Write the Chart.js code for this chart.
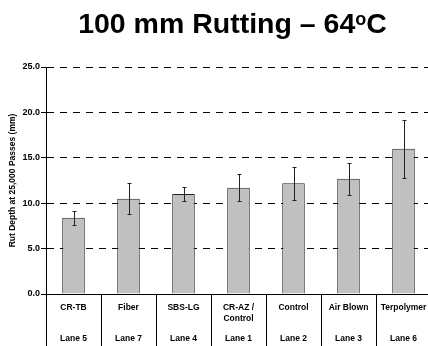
<!DOCTYPE html>
<html>
<head>
<meta charset="utf-8">
<script src="https://cdn.jsdelivr.net/npm/chart.js@4/dist/chart.umd.min.js"></script>
<style>
    html, body { margin: 0; padding: 0; background: #fff; overflow: hidden; }
    #wrap { width: 431px; height: 346px; }
</style>
</head>
<body>
<div id="wrap"><canvas id="rutChart" width="431" height="346"></canvas></div>
<script>
// Data
const mixes = ['CR-TB', 'Fiber', 'SBS-LG', ['CR-AZ /', 'Control'], 'Control', 'Air Blown', 'Terpolymer'];
const lanes = ['Lane 5', 'Lane 7', 'Lane 4', 'Lane 1', 'Lane 2', 'Lane 3', 'Lane 6'];
const rutDepth = [8.4, 10.5, 11.0, 11.7, 12.2, 12.7, 16.0];
const rutError = [0.75, 1.7, 0.8, 1.5, 1.8, 1.75, 3.2];
const yTicks = [0, 5, 10, 15, 20, 25];

const FONT = '"Liberation Sans", Arial, sans-serif';

// Two-row category labels: mix name (1-2 lines) and lane underneath
const labels = mixes.map((m, i) => {
    const name = Array.isArray(m) ? m : [m, ''];
    return [name[0], name[1], '', lanes[i]];
});

// Title with superscript "o"
const titlePlugin = {
    id: 'rutTitle',
    afterDraw(chart) {
        const ctx = chart.ctx;
        const area = chart.chartArea;
        const main = '100 mm Rutting \u2013 64';
        const sup = 'o';
        const tail = 'C';
        ctx.save();
        ctx.fillStyle = '#000';
        ctx.textBaseline = 'alphabetic';
        ctx.font = 'bold 28.5px ' + FONT;
        const wMain = ctx.measureText(main).width;
        const wTail = ctx.measureText(tail).width;
        ctx.font = 'bold 18px ' + FONT;
        const wSup = ctx.measureText(sup).width;
        // title sits a little left of the plot centre
        let x = (area.left + area.right) / 2 - 6 - (wMain + wSup + wTail) / 2;
        const y = 33;
        ctx.font = 'bold 28.5px ' + FONT;
        ctx.fillText(main, x, y);
        x += wMain;
        ctx.font = 'bold 18px ' + FONT;
        ctx.fillText(sup, x, y - 8);
        x += wSup;
        ctx.font = 'bold 28.5px ' + FONT;
        ctx.fillText(tail, x, y);
        ctx.restore();
    }
};

// Error bars drawn from the y scale
const errorBarPlugin = {
    id: 'errorBars',
    afterDatasetsDraw(chart) {
        const ctx = chart.ctx;
        const yScale = chart.scales.y;
        const meta = chart.getDatasetMeta(0);
        ctx.save();
        ctx.strokeStyle = '#222';
        ctx.lineWidth = 1;
        meta.data.forEach((bar, i) => {
            const x = Math.round(bar.x) + 0.5;
            const top = Math.round(yScale.getPixelForValue(rutDepth[i] + rutError[i])) + 0.5;
            const bot = Math.round(yScale.getPixelForValue(rutDepth[i] - rutError[i])) + 0.5;
            ctx.beginPath();
            ctx.moveTo(x, top);
            ctx.lineTo(x, bot);
            ctx.moveTo(x - 2, top);
            ctx.lineTo(x + 2, top);
            ctx.moveTo(x - 2, bot);
            ctx.lineTo(x + 2, bot);
            ctx.stroke();
        });
        ctx.restore();
    }
};

const ctx = document.getElementById('rutChart').getContext('2d');
const rutChart = new Chart(ctx, {
    type: 'bar',
    data: {
        labels: labels,
        datasets: [{
            data: rutDepth,
            backgroundColor: '#c0c0c0',
            borderColor: '#222',
            borderWidth: 1,
            barPercentage: 0.41,
            categoryPercentage: 1
        }]
    },
    options: {
        responsive: false,
        animation: false,
        devicePixelRatio: 1,
        layout: { padding: { top: 67, left: 0, right: 0, bottom: 0 } },
        plugins: {
            legend: { display: false },
            tooltip: { enabled: false }
        },
        scales: {
            x: {
                afterFit: (scale) => { scale.height = 52; },
                grid: {
                    offset: true,
                    drawOnChartArea: false,
                    drawTicks: true,
                    tickLength: 52,
                    color: '#000'
                },
                border: { display: true, color: '#000', width: 1 },
                ticks: {
                    padding: -43,
                    maxRotation: 0,
                    autoSkip: false,
                    color: '#000',
                    font: { family: FONT, size: 8.5, weight: 'bold', lineHeight: 1.2 }
                }
            },
            y: {
                min: 0,
                max: 25,
                afterFit: (scale) => { scale.width = 46; },
                afterBuildTicks: (scale) => { scale.ticks = yTicks.map(v => ({ value: v })); },
                grid: {
                    color: '#000',
                    lineWidth: 1,
                    drawTicks: true,
                    tickLength: 5,
                    tickColor: '#000',
                    tickBorderDash: []
                },
                border: { display: true, color: '#000', width: 1, dash: [7, 6] },
                ticks: {
                    padding: 1,
                    color: '#000',
                    font: { family: FONT, size: 9, weight: 'bold' },
                    callback: (value) => Number(value).toFixed(1)
                },
                title: {
                    display: true,
                    text: 'Rut Depth at 25,000 Passes (mm)',
                    color: '#000',
                    padding: { top: 8, bottom: 0 },
                    font: { family: FONT, size: 8.5, weight: 'bold' }
                }
            }
        }
    },
    plugins: [titlePlugin, errorBarPlugin]
});
</script>
</body>
</html>
